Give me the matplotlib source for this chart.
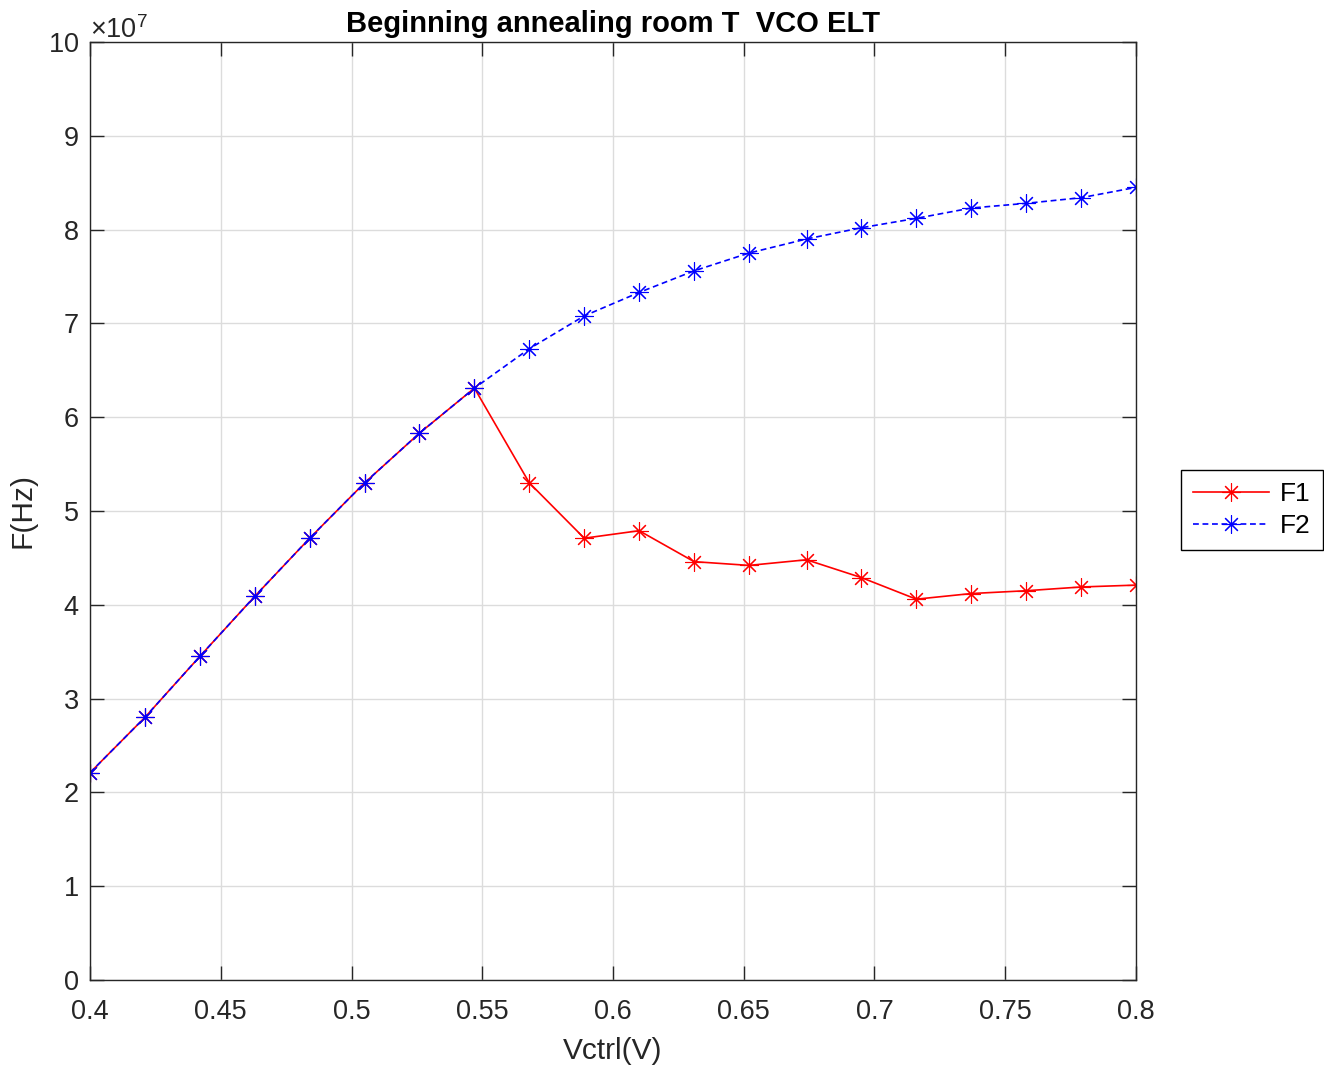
#!/usr/bin/env python

import matplotlib
matplotlib.use("Agg")
import matplotlib.pyplot as plt


VCTRL = [0.400, 0.421, 0.442, 0.463, 0.484, 0.505, 0.526, 0.547, 0.568, 0.589,
         0.610, 0.631, 0.652, 0.674, 0.695, 0.716, 0.737, 0.758, 0.779, 0.800]
F1 = [2.21e7, 2.80e7, 3.45e7, 4.09e7, 4.71e7, 5.30e7, 5.83e7, 6.31e7, 5.30e7, 4.71e7,
      4.79e7, 4.46e7, 4.42e7, 4.48e7, 4.29e7, 4.06e7, 4.12e7, 4.15e7, 4.19e7, 4.21e7]
F2 = [2.21e7, 2.80e7, 3.45e7, 4.09e7, 4.71e7, 5.30e7, 5.83e7, 6.31e7, 6.73e7, 7.08e7,
      7.33e7, 7.56e7, 7.75e7, 7.90e7, 8.02e7, 8.12e7, 8.23e7, 8.28e7, 8.34e7, 8.45e7]
XTICKS = [0.4, 0.45, 0.5, 0.55, 0.6, 0.65, 0.7, 0.75, 0.8]
XTICK_LABELS = ["0.4", "0.45", "0.5", "0.55", "0.6", "0.65", "0.7", "0.75", "0.8"]

AXIS_COLOR = "#262626"
ASTERISK = (8, 2, 0)   # matlab style '*' marker


def main():
    plt.rcParams["font.family"] = ["Liberation Sans", "DejaVu Sans"]
    plt.rcParams["mathtext.fontset"] = "custom"
    plt.rcParams["mathtext.rm"] = "Liberation Sans"

    fig = plt.figure(figsize=(13.24, 10.65), dpi=100, facecolor="white")
    ax = fig.add_axes([90/1324, 85/1065, 1046/1324, 938/1065])

    ax.plot(VCTRL, F1, color="#ff0000", linestyle="-", linewidth=1.2,
            marker=ASTERISK, markersize=13, markeredgewidth=0.8, label="F1")
    ax.plot(VCTRL, F2, color="#0000ff", linestyle=(0, (3.5, 2.2)), linewidth=1.2,
            marker=ASTERISK, markersize=13, markeredgewidth=0.8, label="F2")

    ax.set_xlim(0.4, 0.8)
    ax.set_ylim(0, 1e8)
    ax.set_xticks(XTICKS)
    ax.set_xticklabels(XTICK_LABELS)
    ax.set_yticks([i*1e7 for i in range(11)])
    ax.ticklabel_format(axis="y", style="sci", scilimits=(7, 7), useMathText=True)

    ax.grid(True, color="#dcdcdc", linewidth=1.0)
    ax.set_axisbelow(True)
    ax.tick_params(direction="in", length=10, width=1.0, top=True, right=True,
                   labelsize=19.5, colors=AXIS_COLOR)
    ax.tick_params(axis="x", pad=14)
    ax.tick_params(axis="y", pad=8)
    for spine in ax.spines.values():
        spine.set_color(AXIS_COLOR)
        spine.set_linewidth(1.0)
    ax.yaxis.get_offset_text().set_fontsize(19.5)
    ax.yaxis.get_offset_text().set_color(AXIS_COLOR)

    ax.set_title("Beginning annealing room T  VCO ELT", fontsize=21,
                 fontweight="bold", pad=7)
    ax.set_xlabel("Vctrl(V)", fontsize=21.5, color=AXIS_COLOR, labelpad=8)
    ax.set_ylabel("F(Hz)", fontsize=21.5, color=AXIS_COLOR, labelpad=8)

    leg = ax.legend(loc="center left", fontsize=19, fancybox=False,
                    edgecolor="black", framealpha=1, handlelength=2.9,
                    borderpad=0.45, labelspacing=0.3, handletextpad=0.4,
                    borderaxespad=0)
    leg.get_frame().set_linewidth(1.0)
    leg.set_bbox_to_anchor((1181/1324, 1 - 510/1065), transform=fig.transFigure)

    fig.savefig("out.png", dpi=100, facecolor="white")


if __name__ == "__main__":
    main()
